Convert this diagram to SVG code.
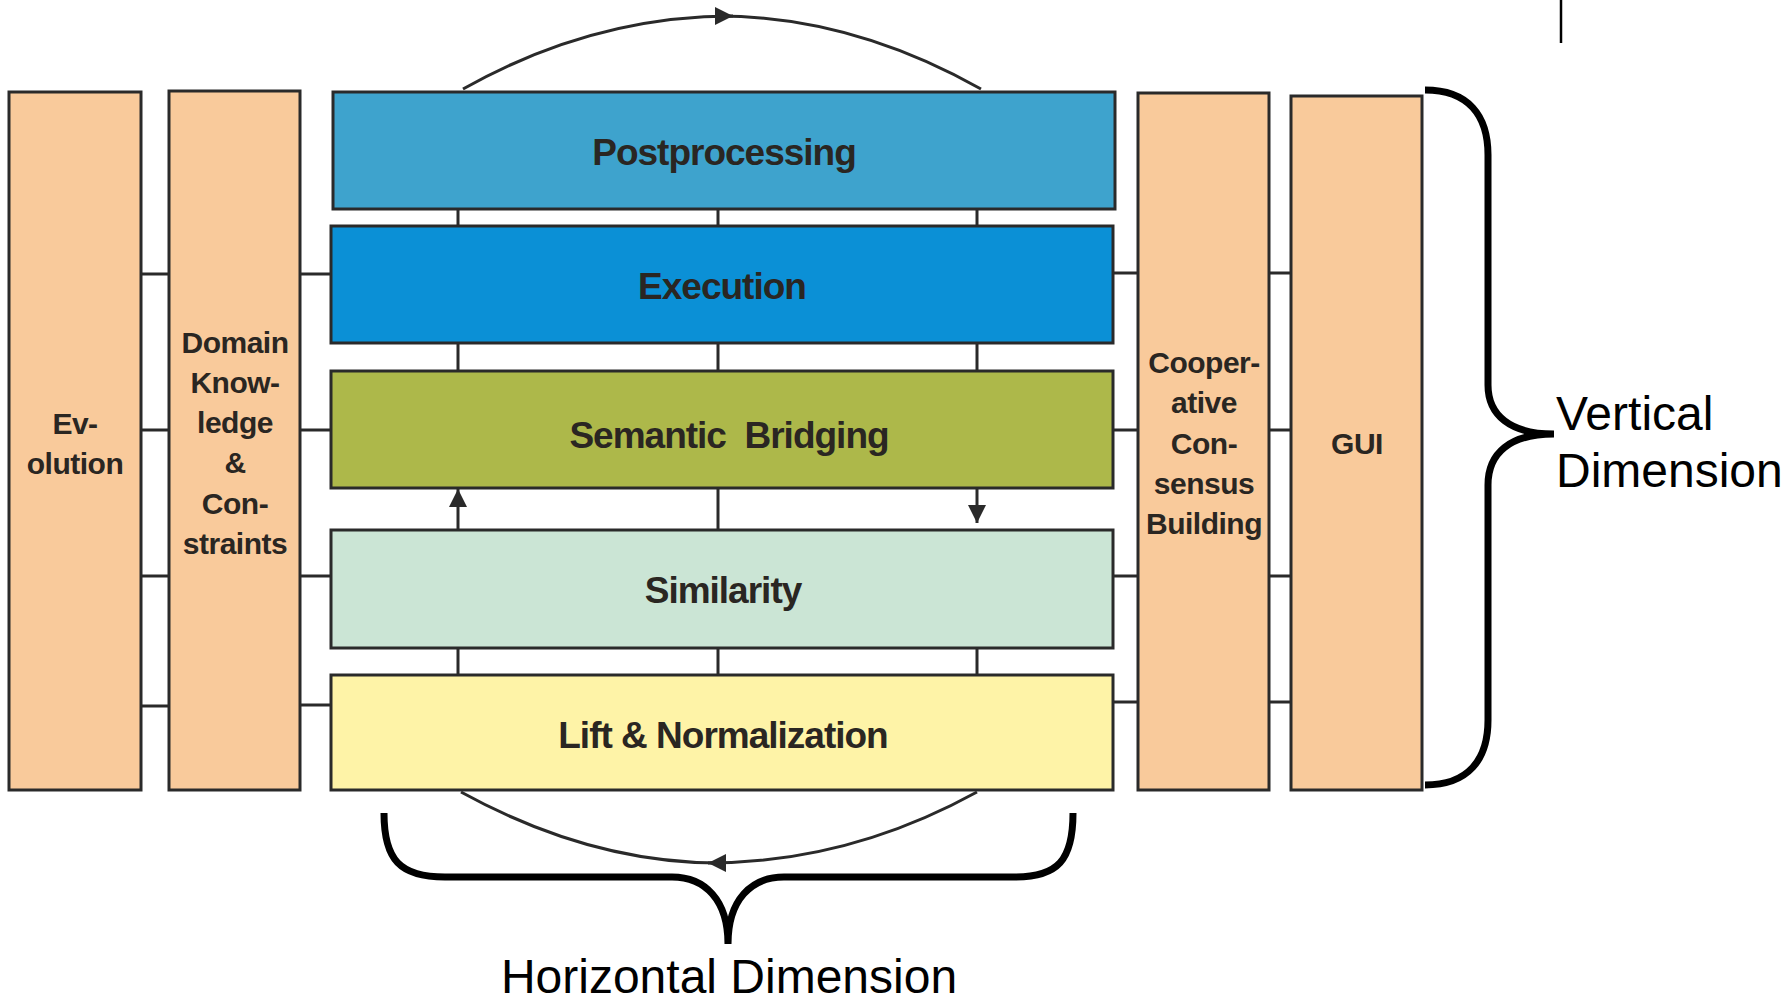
<svg xmlns="http://www.w3.org/2000/svg" width="1788" height="1000" viewBox="0 0 1788 1000">
<defs>
<style>
.box{stroke:#2a2a2a;stroke-width:3}
.side{fill:#F9CA9B}
.lbl{font-family:"Liberation Sans",Arial,sans-serif;font-weight:bold;fill:#2a2622;text-anchor:middle}
.big{font-size:37px;letter-spacing:-1px}
.col{font-size:30px;letter-spacing:-0.5px}
.conn{stroke:#2a2a2a;stroke-width:3;fill:none}
.brace{stroke:#000;stroke-width:7;fill:none}
.dim{font-family:"Liberation Sans",Arial,sans-serif;font-size:48px;fill:#000}
</style>
<marker id="ah" viewBox="0 0 10 10" refX="10" refY="5" markerWidth="21" markerHeight="18" markerUnits="userSpaceOnUse" orient="auto">
<path d="M0,0 L10,5 L0,10 z" fill="#2a2a2a"/>
</marker>
</defs>
<rect width="1788" height="1000" fill="#fff"/>

<g id="connectors">
<path class="conn" d="M141,274H169M141,430H169M141,576H169M141,706H169"/>
<path class="conn" d="M300,274H331M300,430H331M300,576H331M300,705H331"/>
<path class="conn" d="M1113,273H1138M1113,430H1138M1113,576H1138M1113,702H1138"/>
<path class="conn" d="M1269,273H1291M1269,430H1291M1269,576H1291M1269,702H1291"/>
<path class="conn" d="M458,209V226M718,209V226M977,209V226"/>
<path class="conn" d="M458,343V371M718,343V371M977,343V371"/>
<path class="conn" d="M718,488V530"/>
<path class="conn" d="M458,530V489" marker-end="url(#ah)"/>
<path class="conn" d="M977,488V523" marker-end="url(#ah)"/>
<path class="conn" d="M458,648V675M718,648V675M977,648V675"/>
<path class="conn" d="M463,89 Q592.5,16 733,16" marker-end="url(#ah)"/>
<path class="conn" d="M718,16 Q851.5,16 981,89"/>
<path class="conn" d="M977,792 Q848,863 708,863" marker-end="url(#ah)"/>
<path class="conn" d="M719,863 Q590,863 461,792"/>
</g>

<g id="evolution">
<rect class="box side" x="9" y="92" width="132" height="698"/>
<text class="lbl col" x="75" y="434">Ev-</text>
<text class="lbl col" x="75" y="474">olution</text>
</g>
<g id="domain">
<rect class="box side" x="169" y="91" width="131" height="699"/>
<text class="lbl col" x="235" y="353">Domain</text>
<text class="lbl col" x="235" y="393">Know-</text>
<text class="lbl col" x="235" y="433">ledge</text>
<text class="lbl col" x="235" y="473">&amp;</text>
<text class="lbl col" x="235" y="514">Con-</text>
<text class="lbl col" x="235" y="554">straints</text>
</g>
<g id="postprocessing">
<rect class="box" x="333" y="92" width="782" height="117" fill="#3EA3CD"/>
<text class="lbl big" x="724" y="165">Postprocessing</text>
</g>
<g id="execution">
<rect class="box" x="331" y="226" width="782" height="117" fill="#0B90D6"/>
<text class="lbl big" x="722" y="299">Execution</text>
</g>
<g id="semantic">
<rect class="box" x="331" y="371" width="782" height="117" fill="#ADB84A"/>
<text class="lbl big" x="729" y="448" style="white-space:pre">Semantic  Bridging</text>
</g>
<g id="similarity">
<rect class="box" x="331" y="530" width="782" height="118" fill="#CBE5D5"/>
<text class="lbl big" x="723" y="603">Similarity</text>
</g>
<g id="lift">
<rect class="box" x="331" y="675" width="782" height="115" fill="#FEF3A7"/>
<text class="lbl big" x="723" y="748">Lift &amp; Normalization</text>
</g>
<g id="cooperative">
<rect class="box side" x="1138" y="93" width="131" height="697"/>
<text class="lbl col" x="1204" y="373">Cooper-</text>
<text class="lbl col" x="1204" y="413">ative</text>
<text class="lbl col" x="1204" y="454">Con-</text>
<text class="lbl col" x="1204" y="494">sensus</text>
<text class="lbl col" x="1204" y="534">Building</text>
</g>
<g id="gui">
<rect class="box side" x="1291" y="96" width="131" height="694"/>
<text class="lbl col" x="1357" y="454">GUI</text>
</g>

<g id="vertical-dimension">
<path class="brace" d="M1425,90 C1468,90 1488,115 1488,155 L1488,385 C1488,415 1510,434 1554,434 C1510,434 1488,453 1488,485 L1488,720 C1488,760 1468,785 1425,785"/>
<text class="dim" x="1556" y="430">Vertical</text>
<text class="dim" x="1556" y="487">Dimension</text>
</g>
<g id="horizontal-dimension">
<path class="brace" d="M384,813 C384,860 400,877 445,877 L672,877 C705,877 728,900 728,944 C728,900 751,877 784,877 L1015,877 C1058,877 1073,860 1073,813"/>
<text class="dim" x="729" y="993" text-anchor="middle">Horizontal Dimension</text>
</g>
<line x1="1561" y1="0" x2="1561" y2="43" stroke="#000" stroke-width="2.5"/>
</svg>
